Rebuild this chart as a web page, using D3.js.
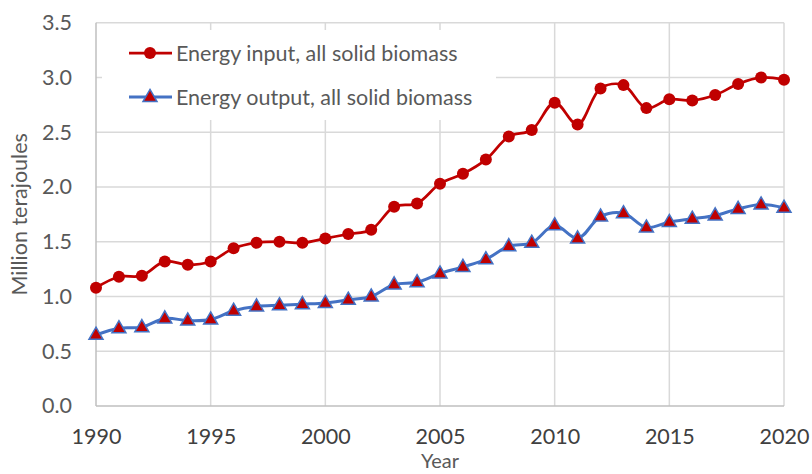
<!DOCTYPE html>
<html><head><meta charset="utf-8">
<script src="https://cdn.jsdelivr.net/npm/d3@7"></script>
<style>html,body{margin:0;padding:0;background:#fff;}svg{display:block;}</style>
</head><body>
<svg id="chart" width="812" height="474"></svg>
<script>
const years = d3.range(1990, 2021);
const energyInput = [1.08,1.18,1.19,1.32,1.29,1.32,1.44,1.49,1.50,1.49,1.53,1.57,1.61,1.82,1.85,2.03,2.12,2.25,2.46,2.52,2.77,2.57,2.90,2.93,2.72,2.80,2.79,2.84,2.94,3.00,2.98];
const energyOutput = [0.65,0.71,0.72,0.80,0.78,0.79,0.87,0.91,0.92,0.93,0.94,0.97,1.00,1.11,1.13,1.21,1.27,1.34,1.46,1.49,1.65,1.53,1.73,1.76,1.63,1.68,1.71,1.74,1.80,1.84,1.81];
const yTicks = [0,0.5,1.0,1.5,2.0,2.5,3.0,3.5];
const xTicks = [1990,1995,2000,2005,2010,2015,2020];
const seriesNames = ["Energy input, all solid biomass","Energy output, all solid biomass"];
const xTitle = "Year", yTitle = "Million terajoules";

const svg = d3.select("#chart");
const font = "Lato, 'Open Sans', sans-serif";
const textColor = "#595959";
const x = d3.scaleLinear().domain([1990,2020]).range([96,784]);
const y = d3.scaleLinear().domain([0,3.5]).range([406,22.7]);

// grid
const g = svg.append("g");
g.selectAll(".hg").data(yTicks.slice(1)).enter().append("line")
  .attr("x1",x(1990)).attr("x2",x(2020)).attr("y1",d=>y(d)).attr("y2",d=>y(d))
  .attr("stroke","#d9d9d9").attr("stroke-width",1.5);
g.selectAll(".vg").data(xTicks.slice(1)).enter().append("line")
  .attr("x1",d=>x(d)).attr("x2",d=>x(d)).attr("y1",y(0)).attr("y2",y(3.5))
  .attr("stroke","#d9d9d9").attr("stroke-width",1.5);
g.append("line").attr("x1",x(1990)).attr("x2",x(1990)).attr("y1",y(0)).attr("y2",y(3.5)).attr("stroke","#bfbfbf").attr("stroke-width",1.5);
g.append("line").attr("x1",x(1990)).attr("x2",x(2020)).attr("y1",y(0)).attr("y2",y(0)).attr("stroke","#bfbfbf").attr("stroke-width",1.5);

// tick labels via axes
const yAxis = d3.axisLeft(y).tickValues(yTicks).tickFormat(d3.format(".1f")).tickSize(0).tickPadding(24);
const ya = svg.append("g").attr("transform",`translate(${x(1990)},0)`).call(yAxis);
const xAxis = d3.axisBottom(x).tickValues(xTicks).tickFormat(d3.format("d")).tickSize(0).tickPadding(23);
const xa = svg.append("g").attr("transform",`translate(0,${y(0)})`).call(xAxis);
[ya,xa].forEach(a=>{a.select(".domain").remove();
  a.selectAll("text").attr("font-family",font).attr("font-size",21.5).attr("fill",textColor);});
xa.selectAll("text").attr("fill","#404040");

// titles
svg.append("text").attr("x",x(2005)).attr("y",468).attr("text-anchor","middle")
  .attr("font-family",font).attr("font-size",20).attr("fill",textColor).text(xTitle);
svg.append("text").attr("transform",`translate(27,${(y(0)+y(3.5))/2}) rotate(-90)`).attr("text-anchor","middle")
  .attr("font-family",font).attr("font-size",21.5).attr("fill",textColor).text(yTitle);

// lines
const curve = d3.curveCatmullRom.alpha(0.5);
const line = d3.line().x((d,i)=>x(years[i])).y(d=>y(d)).curve(curve);
svg.append("path").datum(energyInput).attr("d",line).attr("fill","none").attr("stroke","#C00000").attr("stroke-width",2.75);
svg.append("path").datum(energyOutput).attr("d",line).attr("fill","none").attr("stroke","#4472C4").attr("stroke-width",3);

const tri = d3.symbol().type(d3.symbolTriangle).size(85);
svg.selectAll(".c").data(energyInput).enter().append("circle")
  .attr("cx",(d,i)=>x(years[i])).attr("cy",d=>y(d)).attr("r",6).attr("fill","#C00000");
svg.selectAll(".t").data(energyOutput).enter().append("path").attr("d",tri)
  .attr("transform",(d,i)=>`translate(${x(years[i])},${y(d)+0.5})`)
  .attr("fill","#C00000").attr("stroke","#4472C4").attr("stroke-width",1.5);

// legend
const lg = svg.append("g");
lg.append("rect").attr("x",102).attr("y",30).attr("width",394).attr("height",90).attr("fill","#fff");
const rows = [53,97];
lg.append("line").attr("x1",129).attr("x2",172).attr("y1",rows[0]).attr("y2",rows[0]).attr("stroke","#C00000").attr("stroke-width",2.75);
lg.append("circle").attr("cx",150).attr("cy",rows[0]).attr("r",6).attr("fill","#C00000");
lg.append("line").attr("x1",129).attr("x2",172).attr("y1",rows[1]).attr("y2",rows[1]).attr("stroke","#4472C4").attr("stroke-width",3);
lg.append("path").attr("d",tri).attr("transform",`translate(150,${rows[1]+0.5})`).attr("fill","#C00000").attr("stroke","#4472C4").attr("stroke-width",1.5);
lg.selectAll(".lt").data(seriesNames).enter().append("text")
  .attr("x",176).attr("y",(d,i)=>rows[i]).attr("dy","0.35em")
  .attr("font-family",font).attr("font-size",21.5).attr("fill",textColor).text(d=>d);
</script>
</body></html>
